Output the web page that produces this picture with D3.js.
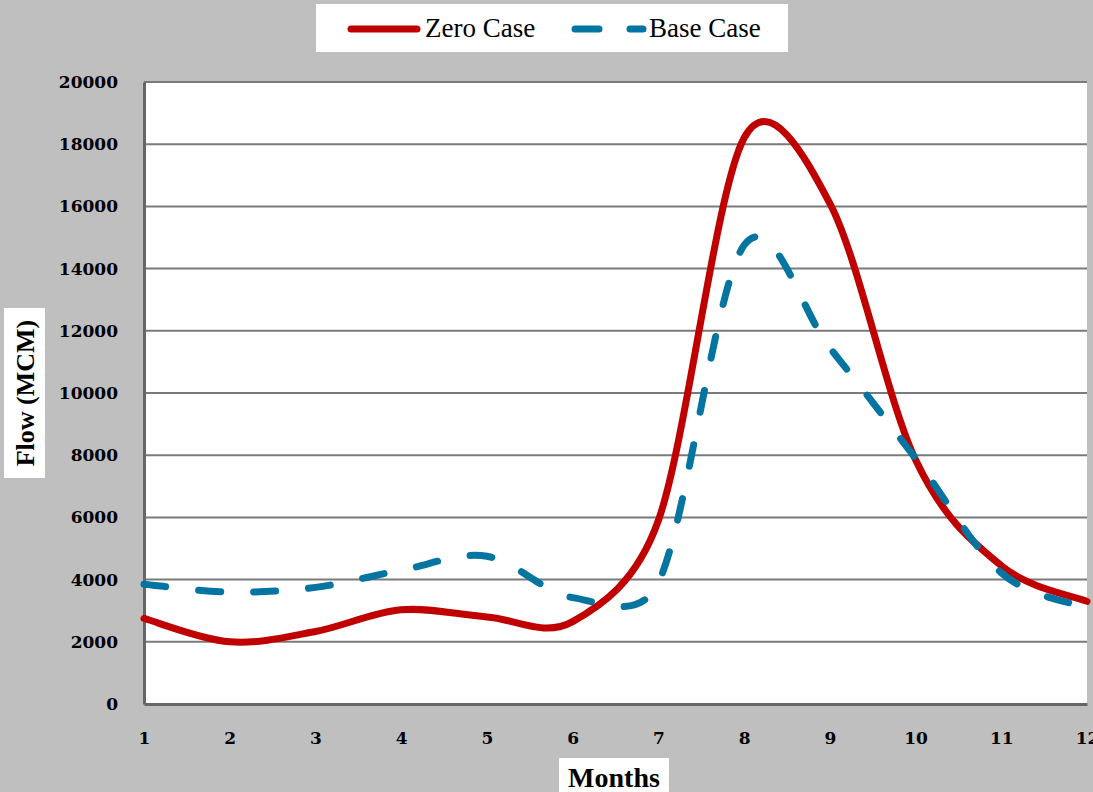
<!DOCTYPE html>
<html><head><meta charset="utf-8">
<script src="https://cdn.jsdelivr.net/npm/d3@7"></script>
<style>html,body{margin:0;padding:0;background:#bfbfbf;}svg{display:block;}</style>
</head><body>
<script>
const months = [1,2,3,4,5,6,7,8,9,10,11,12];
const zeroCase = [2750,2000,2330,3030,2800,2650,5900,18200,16100,7850,4450,3300];
const baseCase = [3850,3600,3750,4300,4750,3420,3900,14750,11450,7900,4220,3090];
const yTicks = [0,2000,4000,6000,8000,10000,12000,14000,16000,18000,20000];
const seriesNames = ["Zero Case","Base Case"];

const W=1093,H=792;
const svg=d3.select("body").append("svg").attr("width",W).attr("height",H);
svg.append("rect").attr("width",W).attr("height",H).attr("fill","#bfbfbf");

const x=d3.scalePoint().domain(months).range([144,1087]);
const y=d3.scaleLinear().domain([0,20000]).range([704,82]);

// Excel-like smoothing curve
function ExcelCurve(ctx){this._context=ctx;}
ExcelCurve.prototype={
  areaStart(){},areaEnd(){},
  lineStart(){this._pts=[];},
  point(a,b){this._pts.push([+a,+b]);},
  lineEnd(){
    const p=this._pts,n=p.length,c=this._context;
    if(!n)return;
    c.moveTo(p[0][0],p[0][1]);
    for(let i=0;i<n-1;i++){
      const p0=p[Math.max(i-1,0)],p1=p[i],p2=p[i+1],p3=p[Math.min(i+2,n-1)];
      const seg=Math.hypot(p2[0]-p1[0],p2[1]-p1[1]);
      const d1x=p2[0]-p0[0],d1y=p2[1]-p0[1],d1=Math.hypot(d1x,d1y);
      const d2x=p3[0]-p1[0],d2y=p3[1]-p1[1],d2=Math.hypot(d2x,d2y);
      let f1=1/6,f2=1/6;
      if(d1*f1>seg/2)f1=seg/2/d1;
      if(d2*f2>seg/2)f2=seg/2/d2;
      c.bezierCurveTo(p1[0]+d1x*f1,p1[1]+d1y*f1,p2[0]-d2x*f2,p2[1]-d2y*f2,p2[0],p2[1]);
    }
  }
};
const curveExcel=ctx=>new ExcelCurve(ctx);

// plot area
svg.append("rect").attr("x",144).attr("y",82).attr("width",943).attr("height",622).attr("fill","#fff");

// gridlines
svg.append("g").selectAll("line").data(yTicks.slice(1)).join("line")
  .attr("x1",144).attr("x2",1087).attr("y1",d=>y(d)).attr("y2",d=>y(d))
  .attr("stroke","#7a7a7a").attr("stroke-width",2);

// axes
const yAxis=svg.append("g").attr("transform","translate(144,0)")
  .call(d3.axisLeft(y).tickValues(yTicks).tickSize(0).tickPadding(26).tickFormat(d3.format("d")));
yAxis.attr("font-family",null).attr("font-size",null);
yAxis.select(".domain").attr("stroke","#666").attr("stroke-width",3);
yAxis.selectAll("text").style("font-family","'DejaVu Serif',serif").style("font-size","17px")
  .style("font-weight","bold").attr("fill","#000");

const xAxis=svg.append("g").attr("transform","translate(0,704)")
  .call(d3.axisBottom(x).tickSize(0).tickPadding(28));
xAxis.attr("font-family",null).attr("font-size",null);
xAxis.select(".domain").attr("stroke","#666").attr("stroke-width",3);
xAxis.selectAll("text").style("font-family","'DejaVu Serif',serif").style("font-size","17px")
  .style("font-weight","bold").attr("fill","#000");

// lines
const line=d3.line().x((d,i)=>x(months[i])).y(d=>y(d)).curve(curveExcel);
const plot=svg.append("g");
plot.append("path").datum(zeroCase).attr("d",line).attr("fill","none")
  .attr("stroke","#c00000").attr("stroke-width",7).attr("stroke-linejoin","round").attr("stroke-linecap","round");
plot.append("path").datum(baseCase).attr("d",line).attr("fill","none")
  .attr("stroke","#0474a1").attr("stroke-width",7).attr("stroke-dasharray","22,33").attr("stroke-linecap","round");

// legend
const lg=svg.append("g");
lg.append("rect").attr("x",316).attr("y",4).attr("width",472).attr("height",48).attr("fill","#fff");
lg.append("line").attr("x1",351).attr("x2",417).attr("y1",29).attr("y2",29)
  .attr("stroke","#c00000").attr("stroke-width",7).attr("stroke-linecap","round");
lg.append("text").attr("x",425).attr("y",37).text(seriesNames[0])
  .attr("font-family","'Liberation Serif',serif").attr("font-size","27px").attr("fill","#000");
lg.append("line").attr("x1",575).attr("x2",643).attr("y1",29).attr("y2",29)
  .attr("stroke","#0474a1").attr("stroke-width",7).attr("stroke-linecap","round").attr("stroke-dasharray","24,31");
lg.append("text").attr("x",649).attr("y",37).text(seriesNames[1])
  .attr("font-family","'Liberation Serif',serif").attr("font-size","27px").attr("fill","#000");

// axis titles
svg.append("rect").attr("x",4).attr("y",308).attr("width",41).attr("height",170).attr("fill","#fff");
svg.append("text").attr("transform","translate(34,393) rotate(-90)").attr("text-anchor","middle")
  .attr("font-family","'Liberation Serif',serif").attr("font-weight","bold").attr("font-size","26px")
  .attr("fill","#000").text("Flow (MCM)");
svg.append("rect").attr("x",559).attr("y",758).attr("width",110).attr("height",34).attr("fill","#fff");
svg.append("text").attr("x",614).attr("y",787).attr("text-anchor","middle")
  .attr("font-family","'Liberation Serif',serif").attr("font-weight","bold").attr("font-size","28px")
  .attr("fill","#000").text("Months");
</script>
</body></html>
